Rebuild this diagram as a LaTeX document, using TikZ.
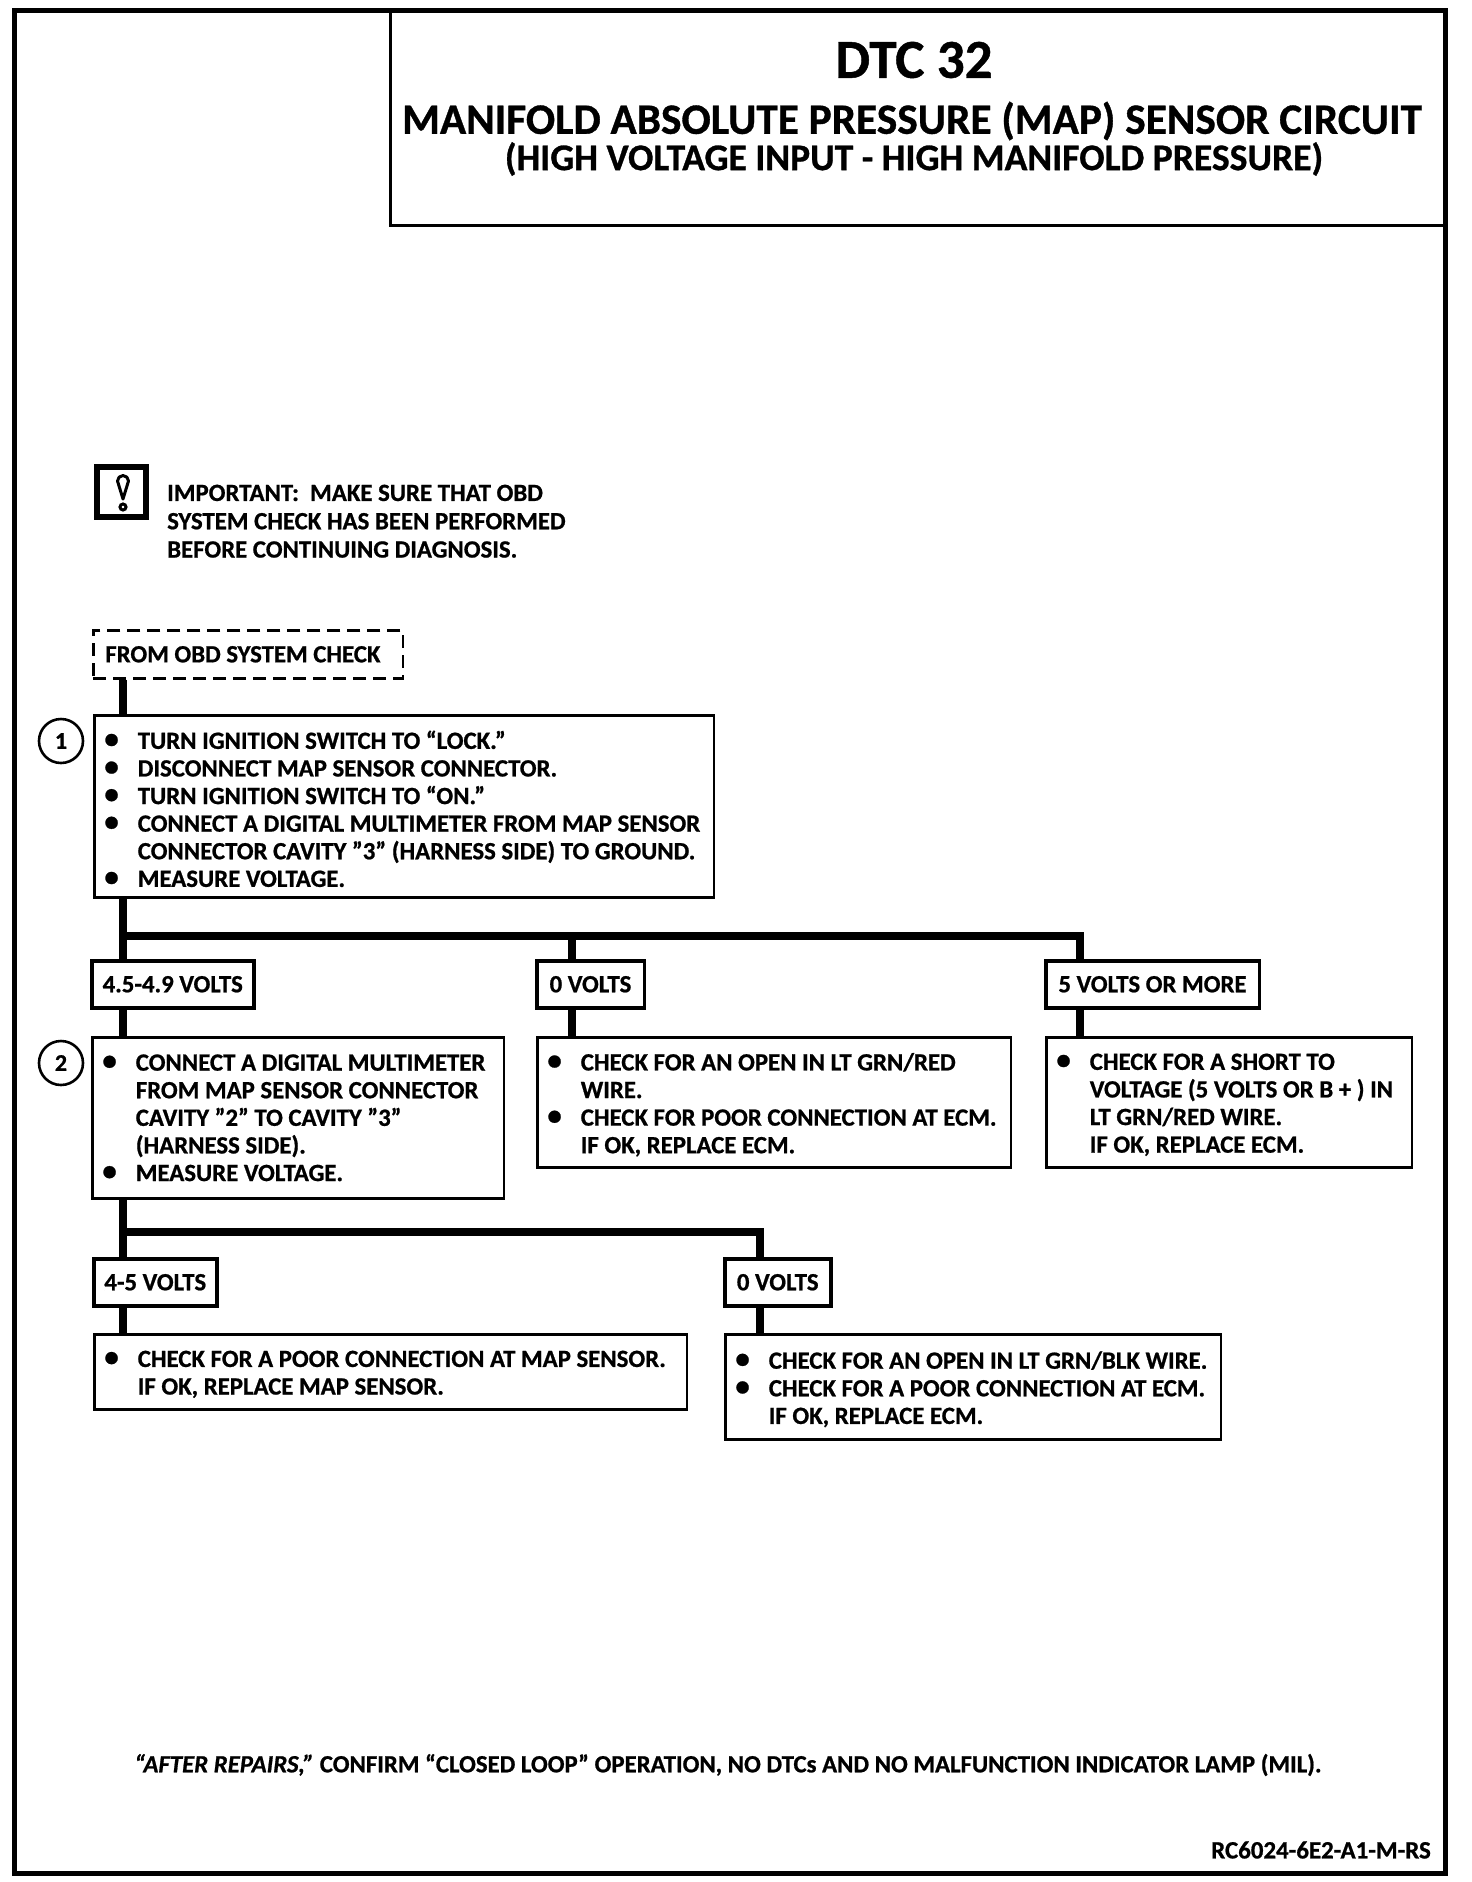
\documentclass[tikz,border=0pt]{standalone}
\usepackage{fontspec}
\setmainfont[BoldFeatures={FakeBold=0.8},BoldItalicFeatures={FakeBold=0.8}]{Carlito}
\newcommand{\bul}{\leavevmode\llap{\raisebox{.03em}{\fontsize{29}{29}\selectfont\textbullet}\hspace{19pt}}}
\newcommand{\lift}{\par\kern-5pt}
\begin{document}
\begin{tikzpicture}[
    x=1pt,y=-1pt,
    box/.style={draw,line width=2.6pt,inner sep=0pt,font=\bfseries\fontsize{24.8}{27.6}\selectfont},
    chk/.style={box,anchor=north west,align=flush left,minimum height=#1,execute at begin node={\leftskip=43.5pt}},
    volts/.style={box,anchor=north west,minimum height=47pt,line width=3.5pt},
    num/.style={draw,circle,line width=2.6pt,minimum size=44pt,inner sep=0pt,font=\bfseries\fontsize{24}{24}\selectfont},
    line/.style={line width=8.5pt},
    note/.style={inner sep=0pt,font=\bfseries\fontsize{24.8}{28.3}\selectfont}
    ]
    \useasboundingbox (0,0) rectangle (1472,1882);
    \draw[line width=5pt] (14,10) rectangle (1445,1873);
    % title
    \coordinate (ttl) at (390,10);
    \draw[line width=3pt] (ttl) |- (1445,225);
    \node[inner sep=0pt,font=\bfseries\fontsize{55}{55}\selectfont] (dtc) at (914,60) {DTC 32};
    \node[inner sep=0pt,font=\bfseries\fontsize{43.3}{43.3}\selectfont] (map) at (912,121) {MANIFOLD ABSOLUTE PRESSURE (MAP) SENSOR CIRCUIT};
    \node[inner sep=0pt,font=\bfseries\fontsize{37.6}{37.6}\selectfont] (high) at (914,159) {(HIGH VOLTAGE INPUT - HIGH MANIFOLD PRESSURE)};
    % important note
    \node[draw,line width=5.5pt,minimum width=49pt,minimum height=50pt,anchor=north west] (imp) at (94,464) {};
    \draw[line width=3pt,line join=round] (123,499) -- (117.5,481) arc[start angle=180,end angle=360,radius=5.5] -- cycle;
    \draw[line width=3pt] (123,507) circle[radius=3];
    \node[note,align=flush left,anchor=north west] (imptxt) at (167,484.5) {IMPORTANT:\ \ MAKE SURE THAT OBD\\SYSTEM CHECK HAS BEEN PERFORMED\\BEFORE CONTINUING DIAGNOSIS.};
    % flow
    \node[box,anchor=north west,align=flush left,text width=285.5pt,minimum height=48pt,inner xsep=12pt,dash pattern=on 13pt off 7pt] (obd) at (92,629) {FROM OBD SYSTEM CHECK};
    \node[chk=182pt,text width=619.5pt] (s1) at (93,714) {\bul TURN IGNITION SWITCH TO ``LOCK.''\\\bul DISCONNECT MAP SENSOR CONNECTOR.\\\bul TURN IGNITION SWITCH TO ``ON.''\\\bul CONNECT A DIGITAL MULTIMETER FROM MAP SENSOR\\CONNECTOR CAVITY "3" (HARNESS SIDE) TO GROUND.\\\bul MEASURE VOLTAGE.\lift};
    \node[num] (n1) at (61,741) {1};
    \node[volts,minimum width=162pt] (v1) at (90,959) {4.5-4.9 VOLTS};
    \node[volts,minimum width=107.5pt] (v2) at (535,959) {0 VOLTS};
    \node[volts,minimum width=213.5pt] (v3) at (1044,959) {5 VOLTS OR MORE};
    \node[chk=161pt,text width=411.5pt] (s2) at (91,1036) {\bul CONNECT A DIGITAL MULTIMETER\\FROM MAP SENSOR CONNECTOR\\CAVITY "2" TO CAVITY "3"\\(HARNESS SIDE).\\\bul MEASURE VOLTAGE.};
    \node[num] (n2) at (61,1063) {2};
    \node[chk=130pt,text width=473.5pt] (o1) at (536,1036) {\bul CHECK FOR AN OPEN IN LT GRN/RED\\WIRE.\\\bul CHECK FOR POOR CONNECTION AT ECM.\\IF OK, REPLACE ECM.\lift};
    \node[chk=130pt,text width=365.5pt] (o2) at (1045,1036) {\bul CHECK FOR A SHORT TO\\VOLTAGE (5 VOLTS OR B + ) IN\\LT GRN/RED WIRE.\\IF OK, REPLACE ECM.\lift};
    \node[volts,minimum width=123pt] (v4) at (92,1257) {4-5 VOLTS};
    \node[volts,minimum width=106pt] (v5) at (723,1257) {0 VOLTS};
    \node[chk=75pt,text width=592.5pt] (o3) at (93,1333) {\bul CHECK FOR A POOR CONNECTION AT MAP SENSOR.\\IF OK, REPLACE MAP SENSOR.\lift};
    \node[chk=105pt,text width=495.5pt] (o4) at (724,1333) {\bul CHECK FOR AN OPEN IN LT GRN/BLK WIRE.\\\bul CHECK FOR A POOR CONNECTION AT ECM.\\IF OK, REPLACE ECM.\lift};
    % connectors
    \coordinate (j1) at (123,936);
    \coordinate (j2) at (572,936);
    \coordinate (j3) at (1080,936);
    \coordinate (k1) at (123,1232);
    \coordinate (k2) at (760,1232);
    \draw[line] (obd.south -| j1) -- (s1.north -| j1);
    \draw[line] (s1.south -| j1) -- (v1.north -| j1);
    \draw[line] (j1) -- (j2) -- (v2.north -| j2);
    \draw[line] (j2) -- (j3) -- (v3.north -| j3);
    \draw[line] (v1.south -| j1) -- (s2.north -| j1);
    \draw[line] (v2.south -| j2) -- (o1.north -| j2);
    \draw[line] (v3.south -| j3) -- (o2.north -| j3);
    \draw[line] (s2.south -| k1) -- (v4.north -| k1);
    \draw[line] (k1) -- (k2) -- (v5.north -| k2);
    \draw[line] (v4.south -| k1) -- (o3.north -| k1);
    \draw[line] (v5.south -| k2) -- (o4.north -| k2);
    % footer
    \node[inner sep=0pt,font=\bfseries\fontsize{24.8}{24.8}\selectfont] (rep) at (728,1765) {\textit{``AFTER REPAIRS,''} CONFIRM ``CLOSED LOOP'' OPERATION, NO DTCs AND NO MALFUNCTION INDICATOR LAMP (MIL).};
    \node[inner sep=0pt,anchor=east,font=\bfseries\fontsize{24.9}{24.9}\selectfont] (code) at (1431,1850) {RC6024-6E2-A1-M-RS};
  \end{tikzpicture}
\end{document}
